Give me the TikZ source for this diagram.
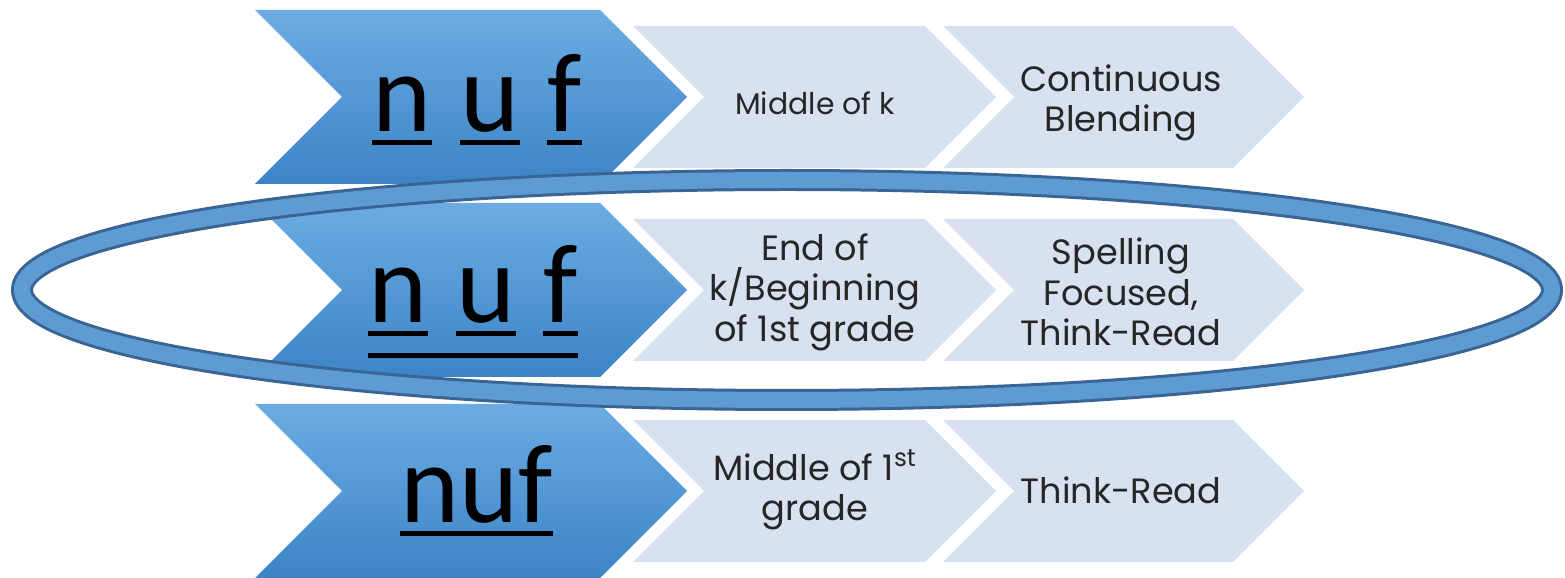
\documentclass[tikz,border=0pt]{standalone}
\usepackage{fontspec}
\setmainfont{Poppins}
\newfontfamily\letterfont{Carlito}
\usepackage{tikz}
\usetikzlibrary{calc}

\definecolor{chevtop}{RGB}{108,172,227}
\definecolor{chevbot}{RGB}{60,132,198}
\definecolor{chevlight}{RGB}{215,225,239}
\definecolor{ringblue}{RGB}{93,155,210}
\definecolor{ringdark}{RGB}{58,100,148}
\definecolor{textgray}{RGB}{38,38,38}

% chevron: style, left x, centre y, length to tip, half height
\newcommand{\chev}[5]{%
  \path[#1] (#2,#3+#5) -- ++(#4-#5,0) -- ++(#5,-#5) -- ++(-#5,-#5)
    -- ++(-#4+#5,0) -- ++(#5,#5) -- cycle;}

\tikzset{
  bigchev/.style={top color=chevtop, bottom color=chevbot},
  lightchev/.style={fill=chevlight},
  bigletter/.style={font=\letterfont\fontsize{64}{64}\selectfont,
    inner sep=0pt, anchor=base west},
  steptext/.style={font=\fontsize{20}{23}\selectfont, align=center,
    text=textgray, inner sep=0pt},
  uline/.style={line width=0.1cm, draw=black}
}

\begin{document}
\begin{tikzpicture}[x=0.02cm, y=0.02cm]
        \useasboundingbox (0,0) rectangle (1565,578);
        % Chevrons
        \foreach \r in {481,288,87} {
          \chev{bigchev}{255}{\r}{432}{87}
          \chev{lightchev}{633}{\r}{363}{71}
          \chev{lightchev}{943}{\r}{361}{71}
        }
        % Letters
        \node[bigletter] (nA) at (372,446) {n};
        \node[bigletter] (uA) at (460,446) {u};
        \node[bigletter] (fA) at (547,446) {f};
        \node[bigletter] (nB) at (368,255) {n};
        \node[bigletter] (uB) at (456,255) {u};
        \node[bigletter] (fB) at (543,255) {f};
        \node[bigletter] (nC) at (400,55) {nuf};
        % Underlines
        \foreach \l in {nA,uA,fA,nB,uB,fB,nC}
          \draw[uline] ($(\l.base west)+(0,-11)$) -- ($(\l.base east)+(0,-11)$);
        \draw[uline] ($(nB.base west)+(0,-33)$) -- ($(fB.base east)+(0,-33)$);
        % Step texts
        \node[steptext, font=\fontsize{17}{20}\selectfont] (midk) at (815,475) {Middle of k};
        \node[steptext] (blend) at (1121,475) {Continuous\\Blending};
        \node[steptext] (endk) at (815,286) {End of\\k/Beginning\\of 1st grade};
        \node[steptext] (spell) at (1121,286) {Spelling\\Focused,\\Think-Read};
        \node[steptext] (midfirst) at (815,88) {Middle of 1\textsuperscript{st}\\grade};
        \node[steptext] (think) at (1121,88) {Think-Read};
        % Ring
        \draw[line width=0.44cm, ringdark] (787,288) ellipse [x radius=765, y radius=110];
        \draw[line width=0.32cm, ringblue] (787,288) ellipse [x radius=765, y radius=110];
\end{tikzpicture}
\end{document}
